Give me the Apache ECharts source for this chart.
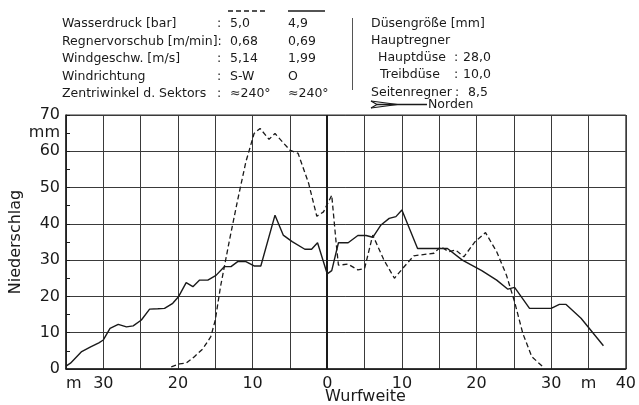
<!DOCTYPE html>
<html>
<head>
<meta charset="utf-8">
<script src="https://cdn.jsdelivr.net/npm/echarts@6/dist/echarts.min.js"></script>
<style>
  html, body { margin: 0; padding: 0; background: #fff; }
  #chart { width: 639px; height: 405px; }
</style>
</head>
<body>
<div id="chart"></div>
<script>
// Niederschlag über Wurfweite (links: negative Werte = Gegenseite)
// durchgezogen: Wasserdruck 4,9 bar
const solidX = [-35.0, -34.4, -32.9, -31.7, -30.6, -30.0, -29.1, -28.0, -26.9, -26.0, -24.9, -23.8, -22.7, -21.8,
  -20.7, -19.9, -18.9, -18.0, -17.1, -16.0, -14.9, -13.8, -12.9, -12.0, -10.9, -9.8, -8.9, -7.0, -5.9, -4.7,
  -3.0, -2.1, -1.3, 0.0, 0.6, 1.5, 2.8, 4.1, 5.2, 6.1, 7.2, 8.3, 9.2, 10.0, 12.1, 14.7, 16.1, 18.1, 20.7,
  22.7, 24.2, 25.1, 27.1, 30.0, 31.1, 32.0, 34.0, 37.0]
const solidY = [0.8, 1.6, 4.8, 6.1, 7.2, 8.0, 11.2, 12.3, 11.6, 11.9, 13.5, 16.5, 16.6, 16.7,
  18.1, 20.0, 23.8, 22.7, 24.5, 24.5, 25.8, 28.2, 28.2, 29.6, 29.6, 28.4, 28.4, 42.4, 36.9, 35.1,
  33.0, 33.0, 34.8, 26.2, 27.1, 34.8, 34.8, 36.8, 36.8, 36.3, 39.7, 41.5, 42.0, 43.8, 33.2, 33.2, 33.2, 30.0, 27.1,
  24.5, 22.0, 22.5, 16.7, 16.7, 17.8, 17.8, 14.0, 6.4]
// gestrichelt: Wasserdruck 5,0 bar
const dashX = [-20.9, -19.8, -18.9, -17.8, -16.7, -15.6, -15.0, -14.3, -13.1, -12.0, -10.9, -9.8, -9.0, -7.8,
  -7.0, -5.0, -3.9, -2.5, -1.4, -0.5, 0.6, 1.2, 1.5, 2.8, 4.1, 5.0, 6.1, 7.6, 9.0, 10.1, 11.6, 14.3, 15.2,
  16.3, 17.2, 18.3, 19.8, 21.2, 22.7, 24.0, 25.1, 26.2, 27.4, 28.9]
const dashY = [0.6, 1.4, 1.6, 3.4, 5.5, 8.9, 13.5, 22.7, 35.5, 46.6, 57.1, 64.9, 66.3, 63.3,
  64.9, 60.3, 59.4, 51.2, 42.1, 43.3, 47.9, 34.6, 28.6, 28.9, 27.3, 27.7, 36.9, 30.0, 25.0, 27.7, 31.2, 31.9, 33.7,
  32.3, 32.8, 30.9, 35.1, 37.6, 32.3, 25.9, 18.5, 9.8, 3.4, 0.6]

// Achsbeschriftung
const xTickValues = [-35, -30, -20, -10, 0, 10, 20, 30, 35, 40]
const xTickLabels = ['m', '30', '20', '10', '0', '10', '20', '30', 'm', '40']

// Kopftabelle
const paramNames = ['Wasserdruck [bar]', 'Regnervorschub [m/min]:', 'Windgeschw. [m/s]', 'Windrichtung', 'Zentriwinkel d. Sektors']
const dashValues = ['5,0', '0,68', '5,14', 'S-W', '≈240°']
const solidValues = ['4,9', '0,69', '1,99', 'O', '≈240°']

const ink = '#1a1a1a'
const font = 'DejaVu Sans'
const headFont = '12.5px ' + font

const zip = (xs, ys) => xs.map((x, i) => [x, ys[i]])

// Kopf als graphic-Elemente
const header = []
const rowTop = [17, 35, 52, 70, 87]
paramNames.forEach((t, i) => {
  header.push({ type: 'text', left: 62, top: rowTop[i], style: { text: t, font: headFont, fill: ink } })
  if (i !== 1) header.push({ type: 'text', left: 217, top: rowTop[i], style: { text: ':', font: headFont, fill: ink } })
  header.push({ type: 'text', left: 230, top: rowTop[i], style: { text: dashValues[i], font: headFont, fill: ink } })
  header.push({ type: 'text', left: 288, top: rowTop[i], style: { text: solidValues[i], font: headFont, fill: ink } })
})
header.push({ type: 'line', shape: { x1: 228, y1: 11, x2: 267, y2: 11 }, style: { stroke: ink, lineWidth: 1.3, lineDash: [5, 3] } })
header.push({ type: 'line', shape: { x1: 288, y1: 11, x2: 325, y2: 11 }, style: { stroke: ink, lineWidth: 1.3 } })
header.push({ type: 'line', shape: { x1: 352.5, y1: 18, x2: 352.5, y2: 90 }, style: { stroke: '#555', lineWidth: 1 } })
const rightBlock = [
  ['Düsengröße [mm]', 371, 17], ['Hauptregner', 371, 34],
  ['Hauptdüse', 378, 51], [':', 454, 51], ['28,0', 463, 51],
  ['Treibdüse', 380, 68], [':', 454, 68], ['10,0', 463, 68],
  ['Seitenregner', 371, 86], [':', 455, 86], ['8,5', 468, 86],
  ['Norden', 428, 98]
]
rightBlock.forEach(b => header.push({ type: 'text', left: b[1], top: b[2], style: { text: b[0], font: headFont, fill: ink } }))
header.push({ type: 'polyline', shape: { points: [[371, 101], [397, 104.5], [371, 108]] }, style: { stroke: ink, fill: null, lineWidth: 1.2 } })
header.push({ type: 'polyline', shape: { points: [[371, 101], [377, 104.5], [371, 108]] }, style: { stroke: ink, fill: null, lineWidth: 1.2 } })
header.push({ type: 'line', shape: { x1: 377, y1: 104.5, x2: 427, y2: 104.5 }, style: { stroke: ink, lineWidth: 1.4 } })
header.push({ type: 'text', left: 325, top: 389, style: { text: 'Wurfweite', font: '16px ' + font, fill: ink, textAlign: 'center' } })

const option = {
  animation: false,
  backgroundColor: '#fff',
  textStyle: { fontFamily: font },
  grid: { left: 62, right: 12, top: 115, bottom: 36, show: true, borderColor: '#333', borderWidth: 1 },
  xAxis: {
    type: 'value',
    min: -35,
    max: 40,
    interval: 5,
    axisLine: { lineStyle: { color: ink, width: 1.5 } },
    axisTick: { show: false },
    splitLine: { lineStyle: { color: '#3a3a3a', width: 1 } },
    axisLabel: {
      color: ink,
      fontSize: 16,
      margin: 7,
      alignMinLabel: 'left',
      formatter: v => {
        const i = xTickValues.indexOf(v)
        return i >= 0 ? xTickLabels[i] : ''
      }
    }
  },
  yAxis: [
    {
      type: 'value',
      min: 0,
      max: 70,
      interval: 10,
      name: 'Niederschlag',
      nameLocation: 'middle',
      nameGap: 42,
      nameTextStyle: { color: ink, fontSize: 16 },
      axisLine: { show: true, onZero: false, lineStyle: { color: ink, width: 1.5 } },
      axisTick: { show: true, inside: true, length: 4, lineStyle: { color: ink } },
      minorTick: { show: true, splitNumber: 2, length: 4, lineStyle: { color: ink } },
      splitLine: { lineStyle: { color: '#3a3a3a', width: 1 } },
      axisLabel: { color: ink, fontSize: 16, margin: 6 }
    },
    {
      type: 'value',
      min: 0,
      max: 70,
      interval: 5,
      position: 'left',
      axisLine: { show: false, onZero: false },
      axisTick: { show: false },
      splitLine: { show: false },
      axisLabel: { color: ink, fontSize: 16, margin: 6, formatter: v => (v === 65 ? 'mm' : '') }
    }
  ],
  graphic: header,
  series: [
    {
      type: 'line',
      data: zip(dashX, dashY),
      symbol: 'none',
      lineStyle: { color: ink, width: 1.3, type: [5, 3] },
      z: 3
    },
    {
      type: 'line',
      data: zip(solidX, solidY),
      symbol: 'none',
      lineStyle: { color: ink, width: 1.4 },
      markLine: {
        silent: true,
        symbol: 'none',
        label: { show: false },
        lineStyle: { color: ink, width: 2, type: 'solid' },
        data: [{ xAxis: 0 }]
      },
      z: 4
    }
  ]
}

const chart = echarts.init(document.getElementById('chart'))
chart.setOption(option)
</script>
</body>
</html>
